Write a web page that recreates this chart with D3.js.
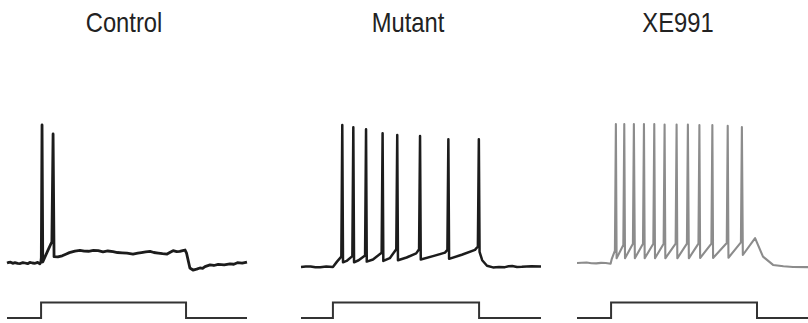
<!DOCTYPE html>
<html>
<head>
<meta charset="utf-8">
<script src="https://cdn.jsdelivr.net/npm/d3@7"></script>
<style>
  body { margin: 0; background: #fff; }
  svg { display: block; }
</style>
</head>
<body>
<svg width="808" height="323"></svg>
<script>
// panel names
var conditions = ["Control", "Mutant", "XE991"];

// membrane potential waypoints, [time ms, mV]
var controlTrace = [
  [0, -70], [8, -69.5], [15, -69.4], [24, -70.2], [33, -69.8], [44, -70.3], [55, -70.4], [66, -69.7],
  [75, -70], [86, -70.5], [95, -69.6], [106, -70], [117, -70.2], [128, -69.6], [137, -70.5],
  [141, -69.4], [143, -66.4], [146, 30], [149, -69.3], [170, -61], [187, -54.6], [192, 23.5],
  [196, -65.4], [212, -65.6], [230, -64.8], [245, -63.6], [260, -62.5], [283, -61.4], [304, -60.8],
  [322, -61.4], [340, -61.5], [360, -60.9], [380, -61], [400, -61.9], [420, -61.3], [442, -61.8],
  [460, -62.4], [480, -62.6], [500, -62.9], [525, -63.5], [545, -62.8], [560, -62.4], [578, -61.9],
  [596, -61.6], [612, -62.4], [630, -62.8], [648, -63.2], [667, -63.5], [680, -62.2], [692, -61.1],
  [707, -61.8], [720, -61.6], [732, -61], [742, -60.6], [748, -62.8], [762, -73.6], [775, -75.1],
  [790, -74.4], [804, -73.6], [815, -73.9], [825, -72.6], [846, -71.4], [862, -71.8], [880, -71],
  [905, -71.3], [929, -70.6], [945, -70.9], [960, -69.8], [980, -70.1], [1000, -69.3]
];
var mutantTrace = [
  [0, -72.9], [20, -72.6], [40, -72.5], [60, -73.1], [80, -73], [105, -72.6], [133, -72.9],
  [150, -69], [168, -65.4], [172, 30], [175, -69.5], [190, -68.5], [214, -65], [218, 28.3],
  [221, -69.5], [240, -68], [267, -64.5], [271, 27], [274, -69], [300, -67.5], [336, -62.5],
  [340, 24], [343, -68.5], [370, -66.5], [397, -60], [401, 22.8], [404, -68], [440, -66],
  [480, -63], [492, -60], [496, 22], [499, -67.5], [550, -65], [600, -62.5], [610, -60.5],
  [614, 19.6], [617, -67], [670, -64], [725, -60.5], [737, -58], [741, 19.6], [744, -62],
  [755, -68], [775, -72], [800, -73.2], [825, -72.9], [850, -73], [865, -72.4], [880, -72.2],
  [900, -72.9], [920, -72.8], [960, -72.3], [1000, -72.5]
];
var xe991Trace = [
  [0, -70], [20, -69.8], [40, -69.6], [60, -70.2], [80, -70.3], [100, -69.9], [120, -70],
  [140, -70.5], [145, -67], [158, -61], [162, 30.7], [165, -66.6], [193, -57], [197, 30.7],
  [200, -66.6], [233, -56], [237, 30.7], [241, -66.6], [275, -56], [279, 30.7], [282, -66.6],
  [318, -56], [322, 30.7], [325, -66.6], [361, -56], [365, 30.4], [368, -66.6], [411, -56],
  [415, 30.4], [418, -66.6], [458, -56], [462, 30.4], [466, -66.6], [506, -56], [510, 30],
  [513, -66.4], [560, -56], [564, 30], [567, -66.4], [624, -55.5], [628, 29.4], [631, -66.2],
  [683, -55], [687, 28.6], [691, -64.2], [742, -52], [775, -65.4], [817, -71.4], [860, -72.4],
  [900, -72.9], [1000, -73]
];
var traces = [controlTrace, mutantTrace, xe991Trace];

// current step, [on ms, off ms]
var stepTimes = [[142, 746], [133, 742], [142, 750]];
var stepAmp = 100; // pA

var traceColors = ["#1c1c1c", "#1c1c1c", "#8c8c8c"];
var traceWidths = [2.8, 2.5, 2.1];

var svg = d3.select("svg");
var panelLeft = [7, 301, 577],
    panelWidth = 240,
    titleX = [124, 408, 678];

var x = d3.scaleLinear().domain([0, 1000]).range([0, panelWidth]);
var y = d3.scaleLinear().domain([-70, 30]).range([263, 125]);
var yStim = d3.scaleLinear().domain([0, stepAmp]).range([318, 302.5]);

var line = d3.line()
    .x(function (d) { return x(d[0]); })
    .y(function (d) { return y(d[1]); });

var stimLine = d3.line()
    .x(function (d) { return x(d[0]); })
    .y(function (d) { return yStim(d[1]); });

conditions.forEach(function (name, i) {
    svg.append("text")
        .attr("transform", "translate(" + titleX[i] + ",32) scale(0.88,1)")
        .attr("text-anchor", "middle")
        .attr("font-family", "Liberation Sans, Arial, sans-serif")
        .attr("font-size", 27)
        .attr("fill", "#222")
        .text(name);

    var g = svg.append("g").attr("transform", "translate(" + panelLeft[i] + ",0)");

    g.append("path")
        .datum(traces[i])
        .attr("fill", "none")
        .attr("stroke", traceColors[i])
        .attr("stroke-width", traceWidths[i])
        .attr("stroke-linejoin", "round")
        .attr("d", line);

    var on = stepTimes[i][0], off = stepTimes[i][1];
    var stim = [[0, 0], [on, 0], [on, stepAmp], [off, stepAmp], [off, 0], [1000, 0]];
    g.append("path")
        .datum(stim)
        .attr("fill", "none")
        .attr("stroke", "#333")
        .attr("stroke-width", 2)
        .attr("d", stimLine);
});
</script>
</body>
</html>
